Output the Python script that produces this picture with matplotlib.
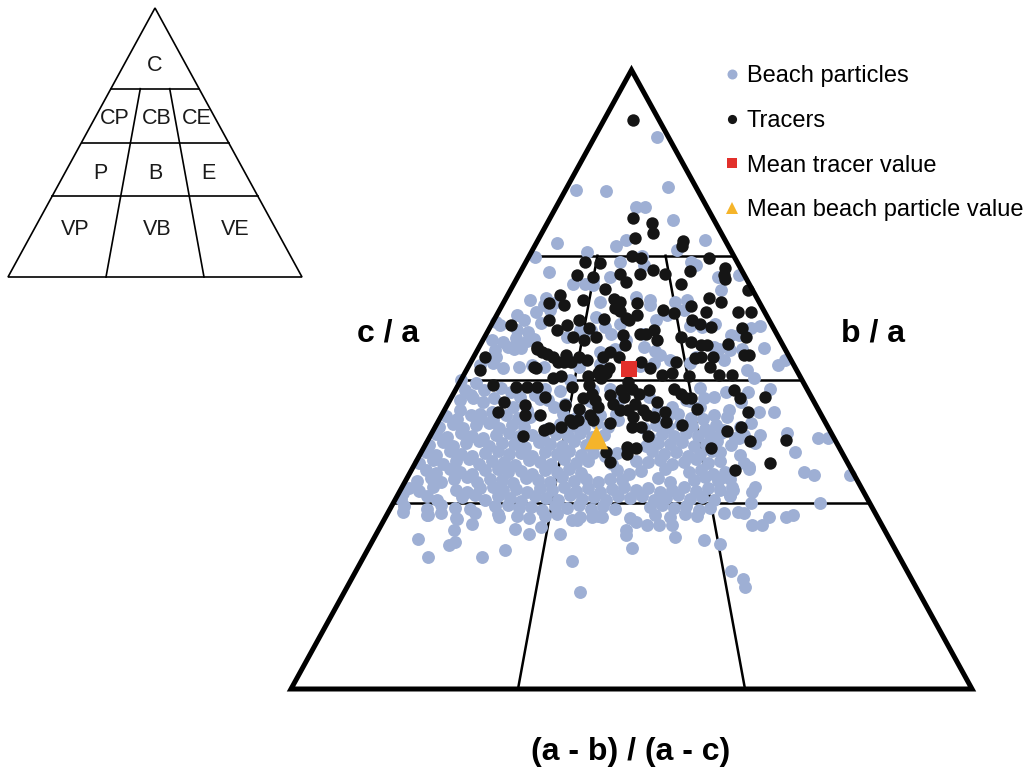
import numpy as np
import matplotlib
matplotlib.use('Agg')
from matplotlib import pyplot as plt
from matplotlib.lines import Line2D
from matplotlib.patches import Polygon

plt.rcParams['font.family'] = ['Liberation Sans', 'DejaVu Sans']

# Sneed & Folk class boundaries
ca_levels = [0.3, 0.5, 0.7]
ab_levels = [1 / 3, 2 / 3]
class_labels = ['C', 'CP', 'CB', 'CE', 'P', 'B', 'E', 'VP', 'VB', 'VE']
class_label_xy = [(0.5, 0.788), (0.364, 0.591), (0.507, 0.591), (0.643, 0.591),
                  (0.313, 0.383), (0.5, 0.383), (0.68, 0.383),
                  (0.228, 0.175), (0.507, 0.175), (0.772, 0.175)]

# Beach particles: c/a and (a-b)/(a-c)
beach_ca = [
    0.892, 0.806, 0.805, 0.811, 0.779, 0.779, 0.758, 0.720, 0.706, 0.715, 0.725, 0.725, 0.709,
    0.698, 0.673, 0.700, 0.685, 0.690, 0.690, 0.685, 0.666, 0.669, 0.666, 0.655, 0.660,
    0.593, 0.604, 0.596, 0.609, 0.620, 0.613, 0.623, 0.553, 0.550, 0.580, 0.577, 0.566,
    0.537, 0.518, 0.499, 0.494, 0.483, 0.470, 0.475, 0.472, 0.475, 0.467, 0.456, 0.451, 0.456,
    0.451, 0.445, 0.448,
    0.655, 0.653, 0.634, 0.620, 0.604, 0.596, 0.613, 0.601, 0.580, 0.580, 0.569,
    0.574, 0.564, 0.553, 0.574, 0.540, 0.531, 0.526, 0.628, 0.585, 0.553, 0.537,
    0.531, 0.521, 0.499, 0.483, 0.461, 0.445, 0.451, 0.461,
    0.472, 0.451, 0.456, 0.467, 0.456, 0.472,
    0.645, 0.583, 0.572, 0.572, 0.550, 0.531, 0.523, 0.531, 0.515, 0.502, 0.480, 0.451, 0.448, 0.448,
    0.413, 0.405, 0.405, 0.383, 0.351, 0.346, 0.346,
    0.327, 0.319, 0.327, 0.313, 0.300, 0.286, 0.300, 0.278, 0.278, 0.281, 0.265, 0.265, 0.235,
    0.190, 0.178, 0.165, 0.284, 0.284,
    0.418, 0.405, 0.410, 0.383, 0.365, 0.359, 0.343, 0.321, 0.311,
    0.316, 0.286, 0.281, 0.284, 0.275, 0.257, 0.267, 0.284,
    0.243, 0.233, 0.238, 0.214, 0.214, 0.225, 0.278, 0.259, 0.251, 0.262,
    0.206, 0.157, 0.227, 0.249, 0.257, 0.270, 0.265, 0.265, 0.265, 0.246, 0.241,
    0.273, 0.273, 0.278, 0.278, 0.251,
    0.564, 0.560, 0.567, 0.562,
    0.523, 0.526, 0.520, 0.524, 0.521, 0.525, 0.522, 0.526,
    0.483, 0.486, 0.480, 0.484, 0.481, 0.485, 0.482, 0.486, 0.480, 0.484,
    0.467, 0.470, 0.464, 0.468, 0.465, 0.469, 0.466, 0.470, 0.464,
    0.628, 0.631, 0.625, 0.629, 0.626,
    0.588, 0.591, 0.585, 0.589, 0.586, 0.590, 0.587,
    0.548, 0.551, 0.545, 0.549, 0.546, 0.550, 0.547, 0.551,
    0.441, 0.436, 0.443, 0.438, 0.435, 0.442, 0.437, 0.440, 0.444, 0.436,
    0.439, 0.442, 0.435, 0.441, 0.437, 0.444, 0.438, 0.436, 0.442, 0.439,
    0.423, 0.428, 0.421, 0.426, 0.429, 0.422, 0.427, 0.424, 0.420, 0.428, 0.425, 0.422,
    0.429, 0.424, 0.421, 0.427, 0.423, 0.428, 0.425, 0.420, 0.426, 0.424, 0.429,
    0.412, 0.407, 0.413, 0.409, 0.406, 0.411, 0.414, 0.408, 0.410, 0.405, 0.412, 0.409,
    0.413, 0.407, 0.411, 0.406, 0.412, 0.409, 0.414, 0.408, 0.410, 0.413, 0.406, 0.411,
    0.394, 0.399, 0.392, 0.397, 0.400, 0.393, 0.398, 0.395, 0.391, 0.399, 0.396, 0.393,
    0.400, 0.394, 0.397, 0.392, 0.398, 0.395, 0.399, 0.393, 0.396, 0.400, 0.394, 0.397,
    0.383, 0.378, 0.384, 0.380, 0.377, 0.382, 0.385, 0.379, 0.381, 0.376, 0.383, 0.380,
    0.384, 0.378, 0.382, 0.377, 0.381, 0.385, 0.379, 0.383, 0.376, 0.380, 0.384, 0.378,
    0.365, 0.370, 0.363, 0.368, 0.371, 0.364, 0.369, 0.366, 0.362, 0.370, 0.367, 0.364,
    0.371, 0.365, 0.368, 0.363, 0.369, 0.366, 0.370, 0.364, 0.367, 0.371, 0.365, 0.368,
    0.354, 0.349, 0.355, 0.351, 0.348, 0.353, 0.356, 0.350, 0.352, 0.347, 0.354, 0.351,
    0.355, 0.349, 0.353, 0.348, 0.352, 0.356, 0.350, 0.354, 0.347, 0.351, 0.355,
    0.336, 0.341, 0.334, 0.339, 0.342, 0.335, 0.340, 0.337, 0.333, 0.341, 0.338, 0.335,
    0.342, 0.336, 0.339, 0.334, 0.340, 0.337, 0.341, 0.335, 0.338, 0.342, 0.336, 0.339,
    0.325, 0.320, 0.326, 0.322, 0.319, 0.324, 0.327, 0.321, 0.323, 0.318, 0.325, 0.322, 0.326,
    0.320, 0.324, 0.319, 0.323, 0.327, 0.321, 0.325, 0.318, 0.322, 0.326, 0.320, 0.324, 0.321,
    0.307, 0.312, 0.305, 0.310, 0.313, 0.306, 0.311, 0.308, 0.304, 0.312, 0.309, 0.306, 0.313,
    0.307, 0.310, 0.305, 0.311, 0.308, 0.312, 0.306, 0.309, 0.313, 0.307, 0.310, 0.305,
    0.296, 0.291, 0.297, 0.293, 0.290, 0.295, 0.298, 0.292, 0.294, 0.289, 0.296,
    0.293, 0.297, 0.291, 0.295, 0.290, 0.294, 0.298, 0.292, 0.296, 0.289, 0.293,
    0.281, 0.277, 0.282, 0.279, 0.276, 0.280, 0.283, 0.278, 0.280, 0.276, 0.281, 0.278, 0.282, 0.279,
]
beach_ab = [
    0.84, 0.08, 0.31, 0.78, 0.53, 0.59, 0.75, 0.11, 0.28, 0.42, 0.47, 0.89, 0.73,
    0.03, 0.13, 0.55, 0.56, 0.445, 0.78, 0.80, 0.405, 0.975, 0.88, 0.30, 0.335,
    0.01, 0.075, 0.11, 0.14, 0.16, 0.19, 0.20, 0.095, 0.115, 0.10, 0.14, 0.17,
    0.07, 0.11, 0.00, 0.05, 0.08, 0.12, 0.05, 0.19, 0.23, 0.27, 0.29, 0.22, 0.18,
    0.04, 0.10, 0.13,
    0.25, 0.335, 0.52, 0.57, 0.63, 0.59, 0.70, 0.37, 0.36, 0.32, 0.28,
    0.43, 0.48, 0.54, 0.54, 0.59, 0.62, 0.57, 0.72, 0.75, 0.77, 0.705,
    0.30, 0.34, 0.32, 0.39, 0.40, 0.46, 0.36, 0.32,
    0.55, 0.57, 0.61, 0.65, 0.685, 0.73,
    0.87, 0.92, 0.87, 0.84, 0.86, 0.79, 0.95, 0.98, 0.85, 0.86, 0.83, 0.76, 0.84, 0.88,
    0.89, 0.96, 0.985, 0.89, 0.89, 0.91, 0.99,
    0.77, 0.76, 0.72, 0.71, 0.75, 0.72, 0.895, 0.78, 0.815, 0.83, 0.74, 0.76, 0.67,
    0.68, 0.70, 0.70, 0.69, 0.73,
    0.73, 0.765, 0.78, 0.71, 0.76, 0.77, 0.705, 0.72, 0.71,
    0.01, 0.03, 0.085, 0.11, 0.146, 0.15, 0.18, 0.18,
    0.086, 0.15, 0.16, 0.12, 0.22, 0.26, 0.23, 0.27, 0.30, 0.32,
    0.39, 0.41, 0.50, 0.49, 0.49, 0.51, 0.53, 0.555, 0.58, 0.585, 0.64,
    0.38, 0.39, 0.42, 0.44, 0.36,
    0.03, 0.07, 0.11, 0.15,
    0.034, 0.071, 0.157, 0.194, 0.231, 0.403, 0.526, 0.680,
    0.027, 0.126, 0.160, 0.254, 0.297, 0.439, 0.482, 0.695, 0.766, 0.894,
    0.028, 0.061, 0.094, 0.248, 0.386, 0.468, 0.661, 0.702, 0.799,
    0.10, 0.16, 0.375, 0.573, 0.672,
    0.032, 0.175, 0.406, 0.46, 0.709, 0.798, 0.958,
    0.057, 0.138, 0.398, 0.446, 0.576, 0.787, 0.820, 0.933,
    0.014, 0.045, 0.077, 0.108, 0.140, 0.171, 0.203, 0.234, 0.318, 0.350,
    0.381, 0.418, 0.465, 0.561, 0.593, 0.624, 0.655, 0.687, 0.718, 0.750,
    0.011, 0.042, 0.072, 0.103, 0.133, 0.164, 0.195, 0.226, 0.287, 0.317, 0.348, 0.379,
    0.410, 0.440, 0.532, 0.563, 0.593, 0.624, 0.655, 0.685, 0.716, 0.777, 0.808,
    0.013, 0.043, 0.073, 0.103, 0.133, 0.163, 0.193, 0.222, 0.252, 0.282, 0.312, 0.342,
    0.372, 0.402, 0.432, 0.546, 0.576, 0.606, 0.636, 0.665, 0.695, 0.725, 0.755, 0.820,
    0.010, 0.039, 0.069, 0.098, 0.127, 0.156, 0.185, 0.214, 0.244, 0.273, 0.302, 0.331,
    0.360, 0.390, 0.419, 0.535, 0.565, 0.594, 0.623, 0.652, 0.681, 0.710, 0.740, 0.800,
    0.010, 0.039, 0.067, 0.096, 0.124, 0.153, 0.181, 0.210, 0.238, 0.266, 0.295, 0.323,
    0.352, 0.380, 0.409, 0.437, 0.466, 0.549, 0.577, 0.606, 0.634, 0.663, 0.691, 0.757,
    0.009, 0.037, 0.065, 0.093, 0.121, 0.148, 0.176, 0.204, 0.232, 0.260, 0.288, 0.315,
    0.343, 0.371, 0.399, 0.455, 0.510, 0.538, 0.566, 0.594, 0.622, 0.650, 0.677, 0.705,
    0.032, 0.059, 0.086, 0.113, 0.140, 0.168, 0.195, 0.222, 0.249, 0.276, 0.304, 0.331,
    0.358, 0.385, 0.467, 0.494, 0.521, 0.576, 0.630, 0.657, 0.684, 0.712, 0.768,
    0.026, 0.053, 0.080, 0.106, 0.133, 0.159, 0.186, 0.213, 0.239, 0.266, 0.293, 0.319,
    0.346, 0.372, 0.399, 0.426, 0.452, 0.479, 0.559, 0.586, 0.639, 0.665, 0.692, 0.719,
    0.015, 0.041, 0.067, 0.119, 0.145, 0.171, 0.197, 0.223, 0.249, 0.275, 0.302, 0.328, 0.354,
    0.380, 0.406, 0.432, 0.458, 0.484, 0.510, 0.536, 0.562, 0.588, 0.614, 0.640, 0.666, 0.692,
    0.012, 0.063, 0.089, 0.140, 0.166, 0.191, 0.216, 0.242, 0.267, 0.293, 0.318, 0.344, 0.369,
    0.395, 0.420, 0.446, 0.471, 0.497, 0.522, 0.548, 0.573, 0.599, 0.624, 0.650, 0.675,
    0.025, 0.077, 0.102, 0.133, 0.165, 0.216, 0.241, 0.266, 0.291, 0.316, 0.341,
    0.366, 0.391, 0.416, 0.441, 0.466, 0.538, 0.563, 0.588, 0.613, 0.639, 0.664,
    0.083, 0.144, 0.226, 0.267, 0.293, 0.324, 0.348, 0.395, 0.432, 0.497, 0.548, 0.578, 0.609, 0.633,
]

# Tracer particles: c/a and (a-b)/(a-c)
tracer_ca = [
    0.920, 0.761, 0.753, 0.737, 0.729, 0.724, 0.715, 0.696, 0.700, 0.696, 0.690, 0.688,
    0.680, 0.669, 0.677, 0.671, 0.675, 0.671, 0.671, 0.669, 0.666, 0.658, 0.655, 0.663,
    0.645, 0.647, 0.637, 0.623, 0.620, 0.628, 0.630, 0.626, 0.615, 0.623, 0.610, 0.600,
    0.613, 0.618, 0.631, 0.626, 0.609, 0.609,
    0.596, 0.588, 0.580, 0.588, 0.596, 0.583, 0.569, 0.569, 0.564, 0.598, 0.572, 0.556,
    0.596, 0.574, 0.574, 0.564, 0.604, 0.580, 0.607, 0.596, 0.590, 0.609, 0.585, 0.583,
    0.569, 0.558, 0.561, 0.556, 0.556, 0.537, 0.540, 0.540, 0.534, 0.537, 0.529, 0.529,
    0.518, 0.507, 0.510, 0.505, 0.521, 0.507, 0.507,
    0.540, 0.529, 0.529, 0.537, 0.531, 0.550, 0.542, 0.537, 0.521, 0.529, 0.505, 0.502,
    0.537, 0.515, 0.515, 0.510, 0.537, 0.545, 0.537,
    0.491, 0.464, 0.448, 0.459, 0.443, 0.488, 0.488, 0.488, 0.472, 0.488, 0.459, 0.505,
    0.491, 0.477, 0.470, 0.510, 0.502, 0.518, 0.467, 0.456, 0.475, 0.461, 0.451, 0.496,
    0.485, 0.477, 0.461, 0.451, 0.443, 0.483, 0.472, 0.451, 0.483, 0.464, 0.448, 0.485,
    0.477, 0.470, 0.470, 0.453, 0.426, 0.483, 0.470, 0.472, 0.448, 0.424, 0.400, 0.416,
    0.402, 0.365, 0.389, 0.354,
    0.418, 0.421, 0.408, 0.424, 0.435, 0.435, 0.443, 0.435, 0.429, 0.391, 0.389, 0.380,
    0.367, 0.424, 0.408, 0.440, 0.432, 0.440, 0.424, 0.453, 0.443,
    0.518, 0.553, 0.545, 0.569, 0.383, 0.430,
]
tracer_ab = [
    0.52, 0.507, 0.62, 0.62, 0.52, 0.775, 0.76, 0.876, 0.50, 0.544, 0.28, 0.353,
    0.93, 0.91, 0.60, 0.65, 0.765, 0.54, 0.45, 0.26, 0.33, 0.476, 0.71, 0.906,
    0.98, 0.39, 0.21, 0.18, 0.24, 0.31, 0.43, 0.455, 0.437, 0.52, 0.457, 0.48,
    0.62, 0.73, 0.81, 0.85, 0.90, 0.95,
    0.20, 0.07, 0.24, 0.27, 0.31, 0.35, 0.38, 0.30, 0.34, 0.40, 0.47, 0.48,
    0.49, 0.53, 0.55, 0.585, 0.52, 0.58, 0.66, 0.72, 0.745, 0.78, 0.78, 0.89,
    0.89, 0.82, 0.70, 0.73, 0.75, 0.76, 0.86, 0.875, 0.70, 0.72, 0.64, 0.53,
    0.555, 0.59, 0.62, 0.67, 0.74, 0.76, 0.80,
    0.29, 0.31, 0.29, 0.335, 0.36, 0.19, 0.23, 0.25, 0.20, 0.27, 0.29, 0.27,
    0.035, 0.04, 0.405, 0.425, 0.41, 0.43, 0.46,
    0.10, 0.15, 0.145, 0.21, 0.22, 0.17, 0.20, 0.23, 0.26, 0.33, 0.32, 0.37,
    0.376, 0.39, 0.365, 0.40, 0.41, 0.43, 0.40, 0.41, 0.44, 0.45, 0.47, 0.49,
    0.50, 0.52, 0.51, 0.53, 0.54, 0.47, 0.48, 0.49, 0.55, 0.57, 0.59, 0.62,
    0.64, 0.65, 0.665, 0.675, 0.63, 0.79, 0.80, 0.87, 0.81, 0.78, 0.79, 0.74,
    0.88, 0.82, 0.69, 0.735,
    0.28, 0.29, 0.23, 0.32, 0.34, 0.36, 0.39, 0.40, 0.445, 0.49, 0.51, 0.49,
    0.45, 0.525, 0.54, 0.56, 0.59, 0.505, 0.50, 0.36, 0.26,
    0.21, 0.19, 0.21, 0.67, 0.44, 0.35,
]

# Mean values (c/a, (a-b)/(a-c))
mean_tracer = (0.517, 0.492)
mean_beach = (0.407, 0.412)

blue = '#9eafd4'
black = '#151515'
red = '#e2302b'
gold = '#f5b42a'


def to_xy(ca, ab):
    # horizontal position inside the triangle row at height c/a
    ca = np.asarray(ca, dtype=float)
    ab = np.asarray(ab, dtype=float)
    return 0.5 * ca + (1 - ca) * ab, ca


def draw_frame(ax, lw_edge, lw_grid):
    ax.add_patch(Polygon([(0, 0), (1, 0), (0.5, 1)], closed=True, fill=False,
                         edgecolor='k', lw=lw_edge, joinstyle='miter', clip_on=False, zorder=5))
    for t in ca_levels:
        ax.plot([0.5 * t, 1 - 0.5 * t], [t, t], color='k', lw=lw_grid, clip_on=False, zorder=1)
    for h in ab_levels:
        x, y = to_xy([0, 0.7], [h, h])
        ax.plot(x, y, color='k', lw=lw_grid, clip_on=False, zorder=1)
    ax.set_xlim(0, 1)
    ax.set_ylim(0, 1)
    ax.axis('off')


fig = plt.figure(figsize=(10.34, 7.73), dpi=100)

# Main diagram
ax = fig.add_axes([291 / 1034, 84 / 773, 681 / 1034, 619 / 773])
draw_frame(ax, 3.6, 1.8)

bx, by = to_xy(beach_ca, beach_ab)
ax.scatter(bx, by, s=86, color=blue, linewidths=0, zorder=2, clip_on=False)
tx, ty = to_xy(tracer_ca, tracer_ab)
ax.scatter(tx, ty, s=80, color=black, linewidths=0, zorder=3, clip_on=False)
mx, my = to_xy([mean_tracer[0]], [mean_tracer[1]])
ax.scatter(mx, my, s=117, marker='s', color=red, linewidths=0, zorder=4)
mx, my = to_xy([mean_beach[0]], [mean_beach[1]])
ax.scatter(mx, my, s=290, marker='^', color=gold, linewidths=0, zorder=4)

fig.text(388 / 1034, 1 - 333 / 773, 'c / a', fontsize=23, fontweight='bold', ha='center', va='center')
fig.text(873 / 1034, 1 - 333 / 773, 'b / a', fontsize=23, fontweight='bold', ha='center', va='center')
fig.text(631 / 1034, 1 - 752 / 773, '(a - b) / (a - c)', fontsize=23, fontweight='bold',
         ha='center', va='center')

handles = [
    Line2D([], [], ls='none', marker='o', ms=7.2, color=blue, mew=0),
    Line2D([], [], ls='none', marker='o', ms=6.6, color=black, mew=0),
    Line2D([], [], ls='none', marker='s', ms=7.0, color=red, mew=0),
    Line2D([], [], ls='none', marker='^', ms=8.0, color=gold, mew=0),
]
labels = ['Beach particles', 'Tracers', 'Mean tracer value', 'Mean beach particle value']
fig.legend(handles, labels, loc='upper left', bbox_to_anchor=(0.681, 0.943), frameon=False,
           fontsize=17, handlelength=0.6, handletextpad=0.3, labelspacing=0.96, borderpad=0.4)

# Class key
ax_key = fig.add_axes([8 / 1034, 496 / 773, 294 / 1034, 269 / 773])
draw_frame(ax_key, 1.2, 1.2)
for lab, (x, y) in zip(class_labels, class_label_xy):
    ax_key.text(x, y, lab, fontsize=15.5, ha='center', va='center', color='#1a1a1a')

fig.savefig('out.png', dpi=100)
